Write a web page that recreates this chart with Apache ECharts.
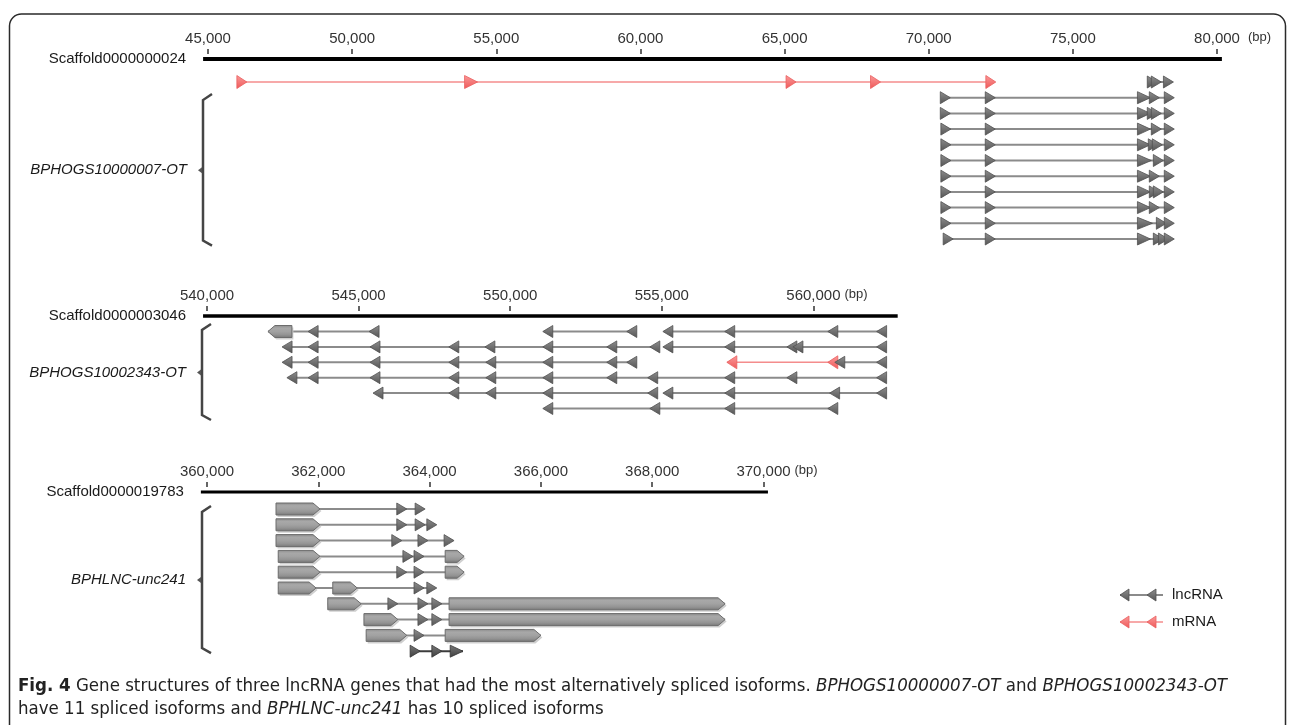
<!DOCTYPE html>
<html>
<head>
<meta charset="utf-8">
<script src="https://cdn.jsdelivr.net/npm/echarts@6/dist/echarts.min.js"></script>
<style>
  html, body { margin: 0; padding: 0; background: #fff; }
  #chart { width: 1293px; height: 725px; }
</style>
</head>
<body>
<div id="chart"></div>
<script>
// ---- Data -------------------------------------------------------------
const geneNames = ['BPHOGS10000007-OT', 'BPHOGS10002343-OT', 'BPHLNC-unc241'];
const scaffoldNames = ['Scaffold0000000024', 'Scaffold0000003046', 'Scaffold0000019783'];
const scaffoldSpans = [[44830, 80170], [539870, 562780], [359890, 370080]];
const axisRanges = [[45000, 80000], [540000, 565000], [360000, 370000]];
const ticks1 = [45000, 50000, 55000, 60000, 65000, 70000, 75000, 80000];
const ticks2 = [540000, 545000, 550000, 555000, 560000];
const ticks3 = [360000, 362000, 364000, 366000, 368000, 370000];
const strands = ['+', '-', '+'];

// isoform = [row, kind, exons [start, end] in bp]
const isoforms1 = [
  [0, 'mrna', [[46100, 46250], [53900, 54350], [65150, 65300], [68080, 68230], [72080, 72230]]],
  [0, 'lnc', [[77680, 77830], [77820, 77970], [78240, 78390]]],
  [1, 'lnc', [[70500, 70650], [72060, 72210], [77240, 77690], [77750, 77900], [78270, 78420]]],
  [2, 'lnc', [[70500, 70650], [72060, 72210], [77240, 77690], [77680, 77830], [77820, 77970], [78270, 78420]]],
  [3, 'lnc', [[70520, 70670], [72060, 72210], [77240, 77690], [77820, 77970], [78270, 78420]]],
  [4, 'lnc', [[70520, 70670], [72060, 72210], [77240, 77690], [77715, 77865], [77855, 78005], [78270, 78420]]],
  [5, 'lnc', [[70520, 70670], [72060, 72210], [77240, 77720], [77890, 78040], [78270, 78420]]],
  [6, 'lnc', [[70520, 70670], [72060, 72210], [77240, 77690], [77750, 77900], [78270, 78420]]],
  [7, 'lnc', [[70520, 70670], [72060, 72210], [77240, 77690], [77750, 77900], [77890, 78040], [78270, 78420]]],
  [8, 'lnc', [[70520, 70670], [72060, 72210], [77240, 77690], [77750, 77900], [78270, 78420]]],
  [9, 'lnc', [[70520, 70670], [72060, 72210], [77240, 77760], [77995, 78145], [78270, 78420]]],
  [10, 'lnc', [[70600, 70750], [72060, 72210], [77240, 77690], [77890, 78040], [78065, 78215], [78270, 78420]]]
];

const isoforms2 = [
  [0, 'lnc', [[542010, 542800], [543400, 543600], [545410, 545610]]],
  [0, 'lnc', [[551140, 551340], [553910, 554110]]],
  [0, 'lnc', [[555100, 555300], [557140, 557340], [560540, 560740], [562150, 562350]]],
  [1, 'lnc', [[542540, 542740], [543400, 543600], [545440, 545640], [548040, 548240], [549230, 549430], [551140, 551340], [553250, 553450], [554670, 554870]]],
  [1, 'lnc', [[555100, 555300], [557140, 557340], [559190, 559390], [559390, 559590], [562150, 562350]]],
  [2, 'lnc', [[542540, 542740], [543400, 543600], [545440, 545640], [548040, 548240], [549260, 549460], [551140, 551340], [553250, 553450], [553910, 554110]]],
  [2, 'mrna', [[557160, 557460], [560490, 560790]]],
  [2, 'lnc', [[560770, 560970], [562150, 562350]]],
  [3, 'lnc', [[542700, 542900], [543400, 543600], [545440, 545640], [548040, 548240], [549260, 549460], [551140, 551340], [553250, 553450], [554600, 554800], [557140, 557340], [559190, 559390], [562150, 562350]]],
  [4, 'lnc', [[545540, 545740], [548040, 548240], [549260, 549460], [551140, 551340], [554600, 554800]]],
  [4, 'lnc', [[555100, 555300], [557140, 557340], [560600, 560800], [562150, 562350]]],
  [5, 'lnc', [[551140, 551340], [554670, 554870], [557140, 557340], [560540, 560740]]]
];

const isoforms3 = [
  [0, 'lnc', [[361240, 362030], [363440, 363560], [363770, 363890]]],
  [1, 'lnc', [[361240, 362030], [363440, 363560], [363770, 363890], [363980, 364100]]],
  [2, 'lnc', [[361240, 362030], [363350, 363470], [363820, 363940], [364290, 364410]]],
  [3, 'lnc', [[361280, 362030], [363550, 363670], [363750, 363870], [364280, 364620]]],
  [4, 'lnc', [[361280, 362030], [363440, 363560], [363750, 363870], [364280, 364620]]],
  [5, 'lnc', [[361280, 361960], [362260, 362700], [363750, 363870], [363980, 364100]]],
  [6, 'lnc', [[362170, 362770], [363280, 363400], [363820, 363940], [364070, 364190], [364350, 369310]]],
  [7, 'lnc', [[362820, 363430], [363820, 363940], [364070, 364190], [364350, 369310]]],
  [8, 'lnc', [[362860, 363590], [363750, 363870], [364280, 366000]]],
  [9, 'dark', [[363680, 363800], [364070, 364190], [364370, 364600]]]
];

const isoformSets = [isoforms1, isoforms2, isoforms3];
const tickSets = [ticks1, ticks2, ticks3];

// ---- Layout -----------------------------------------------------------
const FONT = '"Liberation Sans", Arial, Helvetica, sans-serif';
const CAP_FONT = '"Liberation Sans Narrow", "DejaVu Sans Condensed", sans-serif';
const panels = [
  { left: 208, ppb: 1009 / 35000, lineY: 59, lineW: 4, row0: 82, step: 15.7, rowMax: 11, bracket: [1.15, 10.1] },
  { left: 207, ppb: 151.6 / 5000, lineY: 316, lineW: 3.5, row0: 331.5, step: 15.4, rowMax: 6, bracket: [-0.1, 5.42] },
  { left: 207, ppb: 111.3 / 2000, lineY: 492, lineW: 3.2, row0: 509, step: 15.8, rowMax: 10, bracket: [0.19, 8.8] }
];
panels.forEach(p => {
  p.top = p.lineY - 5;
  p.ymin = -(p.row0 - p.top) / p.step;
  p.height = (p.rowMax - p.ymin) * p.step;
});

const G = echarts.graphic;
const palettes = {
  lnc: {
    line: '#8b8b8b', lw: 2,
    tri: () => new G.LinearGradient(0, 0, 0, 1, [{ offset: 0, color: '#8e8e8e' }, { offset: 1, color: '#555' }]),
    edge: '#505050', h: 6
  },
  dark: {
    line: '#3c3c3c', lw: 2,
    tri: () => new G.LinearGradient(0, 0, 0, 1, [{ offset: 0, color: '#7a7a7a' }, { offset: 1, color: '#3e3e3e' }]),
    edge: '#333', h: 6
  },
  mrna: {
    line: '#f48c8c', lw: 1.6,
    tri: () => new G.LinearGradient(0, 0, 0, 1, [{ offset: 0, color: '#fa9a9a' }, { offset: 1, color: '#ef5858' }]),
    edge: '#ea6060', h: 6.5
  }
};

function boxFill() {
  return new G.LinearGradient(0, 0, 0, 1, [
    { offset: 0, color: '#8a8a8a' },
    { offset: 0.25, color: '#a8a8a8' },
    { offset: 0.5, color: '#a2a2a2' },
    { offset: 0.75, color: '#939393' },
    { offset: 1, color: '#757575' }
  ]);
}

// One exon: a triangle for short exons, a pointed box for long ones
function exonShapes(a, b, y, strand, pal) {
  const out = [];
  let w = b - a;
  if (w < 16) {
    const c = (a + b) / 2;
    w = Math.max(w, 10);
    const h = pal.h, l = c - w / 2, r = c + w / 2;
    const pts = strand === '+' ? [[l, y - h], [r, y], [l, y + h]] : [[r, y - h], [l, y], [r, y + h]];
    out.push({ type: 'polygon', shape: { points: pts }, style: { fill: pal.tri(), stroke: pal.edge, lineWidth: 0.8 } });
  } else {
    const h = 6, t = 7;
    const pts = strand === '+'
      ? [[a, y - h], [b - t, y - h], [b, y], [b - t, y + h], [a, y + h]]
      : [[b, y - h], [a + t, y - h], [a, y], [a + t, y + h], [b, y + h]];
    out.push({ type: 'polygon', shape: { points: pts.map(q => [q[0] + 1.5, q[1] + 2]) }, style: { fill: '#cfcfcf' } });
    out.push({ type: 'polygon', shape: { points: pts }, style: { fill: boxFill(), stroke: '#6c6c6c', lineWidth: 1 } });
  }
  return out;
}

function isoformRenderer(k) {
  const isos = isoformSets[k], strand = strands[k];
  return function (params, api) {
    const iso = isos[params.dataIndex];
    const row = iso[0], pal = palettes[iso[1]], exons = iso[2];
    const first = api.coord([exons[0][0], row]);
    const last = api.coord([exons[exons.length - 1][1], row]);
    const y = first[1];
    const children = [{
      type: 'line',
      shape: { x1: first[0], y1: y, x2: last[0], y2: y },
      style: { stroke: pal.line, lineWidth: pal.lw }
    }];
    exons.forEach(e => {
      const a = api.coord([e[0], row])[0];
      const b = api.coord([e[1], row])[0];
      children.push(...exonShapes(a, b, y, strand, pal));
    });
    return { type: 'group', children };
  };
}

// Scaffold bar, its name, the "(bp)" unit, the gene bracket and gene name
function scaffoldRenderer(k) {
  const p = panels[k];
  return function (params, api) {
    const s = api.coord([scaffoldSpans[k][0], 0])[0];
    const e = api.coord([scaffoldSpans[k][1], 0])[0];
    const x0 = api.coord([axisRanges[k][0], 0])[0];
    const ticks = tickSets[k];
    const xl = api.coord([ticks[ticks.length - 1], 0])[0];
    const bt = api.coord([axisRanges[k][0], p.bracket[0]])[1];
    const bb = api.coord([axisRanges[k][0], p.bracket[1]])[1];
    const bx = x0 - 5;
    const mid = (bt + bb) / 2;
    return {
      type: 'group',
      children: [
        { type: 'line', shape: { x1: s, y1: p.lineY, x2: e, y2: p.lineY }, style: { stroke: '#000', lineWidth: p.lineW } },
        { type: 'text', style: { text: scaffoldNames[k], x: s - 17, y: p.lineY, align: 'right', verticalAlign: 'middle', font: '15px ' + FONT, fill: '#1a1a1a' } },
        { type: 'text', style: { text: '(bp)', x: xl + 31, y: p.lineY - 22, align: 'left', verticalAlign: 'middle', font: '13px ' + FONT, fill: '#333' } },
        { type: 'polyline', shape: { points: [[bx + 9, bt - 6], [bx, bt], [bx, bb], [bx + 9, bb + 5]] }, style: { stroke: '#454545', lineWidth: 2.5, fill: null } },
        { type: 'polygon', shape: { points: [[bx - 1, mid - 3], [bx - 5, mid], [bx - 1, mid + 3]] }, style: { fill: '#555' } },
        { type: 'text', style: { text: geneNames[k], x: bx - 16, y: mid, align: 'right', verticalAlign: 'middle', font: 'italic 15px ' + FONT, fill: '#1a1a1a' } }
      ]
    };
  };
}

const option = {
  animation: false,
  grid: panels.map((p, k) => ({
    left: p.left, top: p.top,
    width: (axisRanges[k][1] - axisRanges[k][0]) * p.ppb,
    height: p.height
  })),
  xAxis: panels.map((p, k) => ({
    gridIndex: k, type: 'value', position: 'top',
    min: axisRanges[k][0], max: axisRanges[k][1],
    axisLine: { show: false, onZero: false },
    splitLine: { show: false },
    axisTick: { show: true, length: 5, customValues: tickSets[k], lineStyle: { color: '#333', width: 1.5 } },
    axisLabel: {
      customValues: tickSets[k], margin: 8, color: '#333', fontSize: 15, fontFamily: FONT,
      formatter: v => v.toLocaleString('en-US')
    }
  })),
  yAxis: panels.map((p, k) => ({
    gridIndex: k, type: 'value', inverse: true, show: false,
    min: p.ymin, max: p.rowMax
  })),
  series: [],
  graphic: [
    { type: 'rect', silent: true, z: -10, shape: { x: 9.5, y: 14, width: 1276, height: 780, r: 12 }, style: { fill: 'none', stroke: '#2a2a2a', lineWidth: 1.5 } },
    // legend key
    { type: 'group', silent: true, children: [
      { type: 'line', shape: { x1: 1120, y1: 595, x2: 1163, y2: 595 }, style: { stroke: palettes.lnc.line, lineWidth: 2 } },
      { type: 'polygon', shape: { points: [[1129, 589], [1120, 595], [1129, 601]] }, style: { fill: palettes.lnc.tri(), stroke: palettes.lnc.edge, lineWidth: 0.8 } },
      { type: 'polygon', shape: { points: [[1156, 589], [1147, 595], [1156, 601]] }, style: { fill: palettes.lnc.tri(), stroke: palettes.lnc.edge, lineWidth: 0.8 } },
      { type: 'text', style: { text: 'lncRNA', x: 1172, y: 595, verticalAlign: 'middle', font: '15px ' + FONT, fill: '#1a1a1a' } },
      { type: 'line', shape: { x1: 1120, y1: 622, x2: 1163, y2: 622 }, style: { stroke: palettes.mrna.line, lineWidth: 1.6 } },
      { type: 'polygon', shape: { points: [[1129, 616], [1120, 622], [1129, 628]] }, style: { fill: palettes.mrna.tri(), stroke: palettes.mrna.edge, lineWidth: 0.8 } },
      { type: 'polygon', shape: { points: [[1156, 616], [1147, 622], [1156, 628]] }, style: { fill: palettes.mrna.tri(), stroke: palettes.mrna.edge, lineWidth: 0.8 } },
      { type: 'text', style: { text: 'mRNA', x: 1172, y: 622, verticalAlign: 'middle', font: '15px ' + FONT, fill: '#1a1a1a' } }
    ] },
    // caption
    { type: 'text', silent: true, style: {
      x: 18, y: 686, verticalAlign: 'middle',
      text: '{b|Fig. 4} Gene structures of three lncRNA genes that had the most alternatively spliced isoforms. {i|BPHOGS10000007-OT} and {i|BPHOGS10002343-OT}',
      font: '18.5px ' + CAP_FONT, fill: '#222',
      rich: {
        b: { fontWeight: 'bold', fontSize: 18.5, fontFamily: CAP_FONT, fill: '#222' },
        i: { fontStyle: 'italic', fontSize: 18.5, fontFamily: CAP_FONT, fill: '#222' }
      }
    } },
    { type: 'text', silent: true, style: {
      x: 18, y: 709, verticalAlign: 'middle',
      text: 'have 11 spliced isoforms and {i|BPHLNC-unc241} has 10 spliced isoforms',
      font: '18.5px ' + CAP_FONT, fill: '#222',
      rich: {
        i: { fontStyle: 'italic', fontSize: 18.5, fontFamily: CAP_FONT, fill: '#222' }
      }
    } }
  ]
};

panels.forEach((p, k) => {
  option.series.push({
    type: 'custom', xAxisIndex: k, yAxisIndex: k, silent: true, z: 1,
    renderItem: scaffoldRenderer(k),
    data: [[scaffoldSpans[k][0], 0]]
  });
  option.series.push({
    type: 'custom', xAxisIndex: k, yAxisIndex: k, silent: true, z: 2,
    renderItem: isoformRenderer(k),
    data: isoformSets[k].map(iso => [iso[2][0][0], iso[0]])
  });
});

const chart = echarts.init(document.getElementById('chart'), null, { renderer: 'canvas' });
chart.setOption(option);
</script>
</body>
</html>
